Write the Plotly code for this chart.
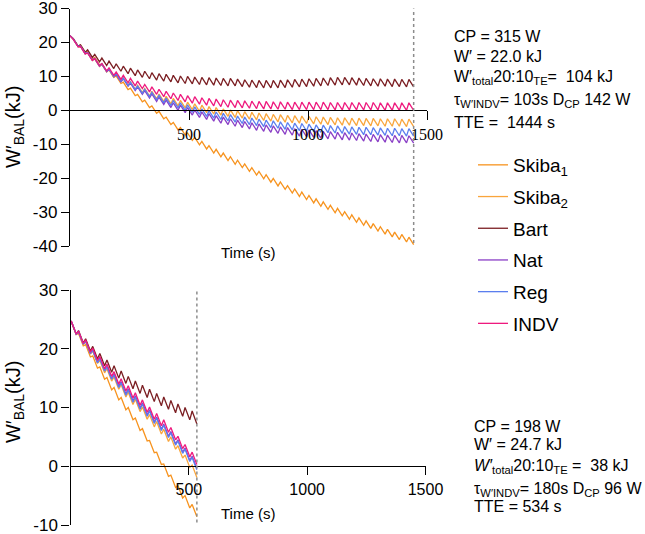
import plotly.graph_objects as go

# ---------------- data ----------------
# interval protocol: 20 s work / 10 s recovery
WORK_S = 20
CYCLE_S = 30

# ---- Top panel (CP 315 W, W' 22.0 kJ, TTE 1444 s) ----
top_start = 22.0
top_first_peak_t = 14
skiba1_top_peak = [21.1, 19.3, 17.4, 15.6, 13.7, 11.9, 10.1, 8.3, 6.5, 4.7, 3.0, 1.3, -0.3, -2.0, -3.6, -5.1,
                   -6.7, -8.0, -9.2, -10.4, -11.5, -12.6, -13.7, -14.7, -15.8, -16.9, -18.0, -19.0, -20.1, -21.1,
                   -22.2, -23.2, -24.1, -25.1, -26.1, -27.0, -28.0, -28.9, -29.9, -30.8, -31.7, -32.6, -33.4,
                   -34.3, -35.1, -35.9, -36.6, -37.4]
skiba1_top_trough = [18.9, 17.1, 15.2, 13.4, 11.5, 9.7, 7.9, 6.1, 4.3, 2.5, 0.8, -0.9, -2.5, -4.2, -5.8, -7.3,
                     -8.9, -10.2, -11.4, -12.6, -13.7, -14.8, -15.9, -16.9, -18.0, -19.1, -20.2, -21.2, -22.3,
                     -23.3, -24.4, -25.4, -26.3, -27.3, -28.3, -29.2, -30.2, -31.1, -32.1, -33.0, -33.9, -34.8,
                     -35.6, -36.5, -37.3, -38.1, -38.8, -39.6]
skiba2_top_peak = [20.9, 18.8, 16.9, 15.1, 13.5, 12.0, 10.7, 9.5, 8.4, 7.4, 6.4, 5.6, 4.8, 4.1, 3.5, 2.9, 2.4,
                   1.9, 1.5, 1.1, 0.8, 0.4, 0.1, -0.1, -0.4, -0.6, -0.8, -1.0, -1.2, -1.3, -1.5, -1.6, -1.7,
                   -1.8, -1.9, -2.0, -2.1, -2.2, -2.2, -2.3, -2.3, -2.4, -2.4, -2.5, -2.5, -2.5, -2.6, -2.6]
skiba2_top_trough = [18.7, 16.6, 14.7, 12.9, 11.3, 9.8, 8.5, 7.3, 6.2, 5.2, 4.2, 3.4, 2.6, 1.9, 1.3, 0.7, 0.2,
                     -0.3, -0.7, -1.1, -1.4, -1.8, -2.1, -2.3, -2.6, -2.8, -3.0, -3.2, -3.4, -3.5, -3.7, -3.8,
                     -3.9, -4.0, -4.1, -4.2, -4.3, -4.4, -4.4, -4.5, -4.5, -4.6, -4.6, -4.7, -4.7, -4.7, -4.8, -4.8]
bart_top_peak = [21.1, 19.3, 17.8, 16.5, 15.4, 14.5, 13.7, 13.0, 12.4, 11.9, 11.5, 11.1, 10.8, 10.6, 10.3, 10.1,
                 10.0, 9.8, 9.7, 9.6, 9.5, 9.4, 9.4, 9.2, 9.0, 8.9, 8.8, 8.8, 8.8, 8.9, 9.0, 9.1, 9.2, 9.3, 9.4,
                 9.5, 9.6, 9.7, 9.7, 9.6, 9.5, 9.4, 9.3, 9.3, 9.2, 9.2, 9.1, 9.1]
bart_top_trough = [18.9, 17.1, 15.6, 14.3, 13.2, 12.3, 11.5, 10.8, 10.2, 9.7, 9.3, 8.9, 8.6, 8.4, 8.1, 7.9, 7.8,
                   7.6, 7.5, 7.4, 7.3, 7.2, 7.2, 7.0, 6.8, 6.7, 6.6, 6.6, 6.6, 6.7, 6.8, 6.9, 7.0, 7.1, 7.2, 7.3,
                   7.4, 7.5, 7.5, 7.4, 7.3, 7.2, 7.1, 7.1, 7.0, 7.0, 6.9, 6.9]
nat_top_peak = [21.0, 18.9, 17.0, 15.2, 13.6, 12.1, 10.6, 9.3, 8.0, 6.9, 5.8, 4.8, 3.9, 3.0, 2.2, 1.5, 0.8, 0.1,
                -0.5, -1.0, -1.6, -2.0, -2.5, -2.9, -3.3, -3.7, -4.0, -4.3, -4.6, -4.9, -5.1, -5.4, -5.6, -5.8,
                -6.0, -6.2, -6.3, -6.5, -6.6, -6.7, -6.9, -7.0, -7.1, -7.2, -7.3, -7.4, -7.4, -7.5]
nat_top_trough = [18.8, 16.7, 14.8, 13.0, 11.4, 9.9, 8.4, 7.1, 5.8, 4.7, 3.6, 2.6, 1.7, 0.8, 0.0, -0.7, -1.4,
                  -2.1, -2.7, -3.2, -3.8, -4.2, -4.7, -5.1, -5.5, -5.9, -6.2, -6.5, -6.8, -7.1, -7.3, -7.6, -7.8,
                  -8.0, -8.2, -8.4, -8.5, -8.7, -8.8, -8.9, -9.1, -9.2, -9.3, -9.4, -9.5, -9.6, -9.6, -9.7]
reg_top_peak = [21.0, 18.9, 17.0, 15.3, 13.7, 12.2, 10.8, 9.5, 8.3, 7.2, 6.2, 5.3, 4.4, 3.6, 2.9, 2.2, 1.6, 1.0,
                0.4, -0.1, -0.5, -0.9, -1.3, -1.7, -2.0, -2.3, -2.6, -2.9, -3.1, -3.4, -3.6, -3.8, -3.9, -4.1,
                -4.3, -4.4, -4.5, -4.6, -4.8, -4.9, -5.0, -5.0, -5.1, -5.2, -5.3, -5.3, -5.4, -5.4]
reg_top_trough = [18.8, 16.7, 14.8, 13.1, 11.5, 10.0, 8.6, 7.3, 6.1, 5.0, 4.0, 3.1, 2.2, 1.4, 0.7, 0.0, -0.6,
                  -1.2, -1.8, -2.3, -2.7, -3.1, -3.5, -3.9, -4.2, -4.5, -4.8, -5.1, -5.3, -5.6, -5.8, -6.0, -6.1,
                  -6.3, -6.5, -6.6, -6.7, -6.8, -7.0, -7.1, -7.2, -7.2, -7.3, -7.4, -7.5, -7.5, -7.6, -7.6]
indv_top_peak = [20.9, 18.8, 16.9, 15.3, 13.8, 12.5, 11.3, 10.3, 9.4, 8.6, 7.6, 6.9, 6.2, 5.6, 5.1, 4.7, 4.3,
                 4.0, 3.7, 3.5, 3.3, 3.1, 3.0, 2.9, 2.8, 2.7, 2.6, 2.6, 2.5, 2.5, 2.4, 2.4, 2.4, 2.4, 2.4, 2.4,
                 2.3, 2.3, 2.3, 2.3, 2.3, 2.3, 2.3, 2.2, 2.2, 2.2, 2.2, 2.2]
indv_top_trough = [18.7, 16.6, 14.7, 13.1, 11.6, 10.3, 9.1, 8.1, 7.2, 6.4, 5.4, 4.7, 4.0, 3.4, 2.9, 2.5, 2.1,
                   1.8, 1.5, 1.3, 1.1, 0.9, 0.8, 0.7, 0.6, 0.5, 0.4, 0.4, 0.3, 0.3, 0.2, 0.2, 0.2, 0.2, 0.2, 0.2,
                   0.1, 0.1, 0.1, 0.1, 0.1, 0.1, 0.1, 0.0, 0.0, 0.0, 0.0, 0.0]
top_tte = 1444

# ---- Bottom panel (CP 198 W, W' 24.7 kJ, TTE 534 s) ----
bot_start = 24.7
bot_first_peak_t = 4
skiba1_bot_peak = [24.5, 22.6, 20.7, 18.8, 16.9, 15.1, 13.4, 11.7, 10.0, 8.2, 6.4, 4.4, 2.4, 0.4, -1.5, -3.3, -5.0, -6.5]
skiba1_bot_trough = [22.4, 20.5, 18.6, 16.7, 14.8, 13.0, 11.3, 9.6, 7.9, 6.1, 4.3, 2.3, 0.3, -1.7, -3.6, -5.4, -7.1, -8.6]
skiba2_bot_peak = [24.6, 22.9, 21.2, 19.6, 18.0, 16.6, 15.2, 13.9, 12.6, 11.4, 10.1, 8.8, 7.6, 6.3, 5.0, 3.5, 1.9, 0.2]
skiba2_bot_trough = [22.5, 20.8, 19.1, 17.5, 15.9, 14.5, 13.1, 11.8, 10.5, 9.3, 8.0, 6.7, 5.5, 4.2, 2.9, 1.4, -0.2, -1.9]
bart_bot_peak = [24.6, 23.1, 21.7, 20.4, 19.2, 18.1, 17.1, 16.2, 15.3, 14.5, 13.8, 13.1, 12.4, 11.8, 11.2, 10.6, 10.0, 9.4]
bart_bot_trough = [22.5, 21.0, 19.6, 18.3, 17.1, 16.0, 15.0, 14.1, 13.2, 12.4, 11.7, 11.0, 10.3, 9.7, 9.1, 8.5, 7.9, 7.2]
nat_bot_peak = [24.6, 22.9, 21.3, 19.8, 18.4, 17.0, 15.7, 14.4, 13.2, 12.0, 10.8, 9.6, 8.4, 7.2, 5.9, 4.5, 3.1, 1.7]
nat_bot_trough = [22.5, 20.8, 19.2, 17.7, 16.3, 14.9, 13.6, 12.3, 11.1, 9.9, 8.7, 7.5, 6.3, 5.1, 3.8, 2.4, 1.0, -0.4]
reg_bot_peak = [24.6, 22.9, 21.3, 19.7, 18.3, 16.9, 15.5, 14.2, 13.0, 11.8, 10.6, 9.4, 8.2, 7.0, 5.7, 4.3, 2.9, 1.5]
reg_bot_trough = [22.5, 20.8, 19.2, 17.6, 16.2, 14.8, 13.4, 12.1, 10.9, 9.7, 8.5, 7.3, 6.1, 4.9, 3.6, 2.2, 0.8, -0.6]
indv_bot_peak = [24.6, 23.0, 21.5, 20.1, 18.7, 17.4, 16.1, 14.9, 13.7, 12.5, 11.3, 10.1, 9.0, 7.9, 6.6, 5.1, 3.7, 2.4]
indv_bot_trough = [22.5, 20.9, 19.4, 18.0, 16.6, 15.3, 14.0, 12.8, 11.6, 10.4, 9.2, 8.0, 6.9, 5.8, 4.5, 3.0, 1.6, 0.3]
bot_tte = 534

series_names = ["Skiba<sub>1</sub>", "Skiba<sub>2</sub>", "Bart", "Nat", "Reg", "INDV"]
series_colors = ["#F7931E", "#F9A53C", "#7B1E22", "#8A3FC6", "#5B7EEE", "#EE1A7E"]

x_tick_vals = [500, 1000, 1500]
top_y_ticks = [-40, -30, -20, -10, 0, 10, 20, 30]
bot_y_ticks = [-10, 0, 10, 20, 30]

top_text = ["CP = 315 W", "W\u2032 = 22.0 kJ", "W\u2032<sub>total</sub>20:10<sub>TE</sub>=  104 kJ",
            "\u03c4<sub>W\u2032INDV</sub>= 103s D<sub>CP</sub> 142 W", "TTE =  1444 s"]
bot_text = ["CP = 198 W", "W\u2032 = 24.7 kJ", "<i>W\u2032</i><sub>total</sub>20:10<sub>TE</sub> =  38 kJ",
            "\u03c4<sub>W\u2032INDV</sub>= 180s D<sub>CP</sub> 96 W", "TTE = 534 s"]


# ---------------- helpers ----------------
def build_t(first_peak_t, n):
    t = [0]
    for k in range(n):
        t.append(first_peak_t + CYCLE_S * k)
        t.append(first_peak_t + CYCLE_S * k + WORK_S)
    return t


def build_y(start, peaks, troughs):
    y = [start]
    for p, q in zip(peaks, troughs):
        y.extend([p, q])
    return y


W, H = 645, 534


def px_x(p):
    return p / W


def px_y(p):
    return 1 - p / H


FONT = "Liberation Sans, Arial, Helvetica, sans-serif"
SERIF = "Liberation Serif, Times New Roman, serif"

top_sets = [(skiba1_top_peak, skiba1_top_trough), (skiba2_top_peak, skiba2_top_trough),
            (bart_top_peak, bart_top_trough), (nat_top_peak, nat_top_trough),
            (reg_top_peak, reg_top_trough), (indv_top_peak, indv_top_trough)]
bot_sets = [(skiba1_bot_peak, skiba1_bot_trough), (skiba2_bot_peak, skiba2_bot_trough),
            (bart_bot_peak, bart_bot_trough), (nat_bot_peak, nat_bot_trough),
            (reg_bot_peak, reg_bot_trough), (indv_bot_peak, indv_bot_trough)]

fig = go.Figure()

t_top = build_t(top_first_peak_t, len(skiba1_top_peak))
t_bot = build_t(bot_first_peak_t, len(skiba1_bot_peak))

for i, (name, col) in enumerate(zip(series_names, series_colors)):
    p, q = top_sets[i]
    fig.add_trace(go.Scatter(x=t_top, y=build_y(top_start, p, q), mode="lines", name=name,
                             line=dict(color=col, width=1.3), legendgroup=f"g{i}", showlegend=True,
                             xaxis="x", yaxis="y", hoverinfo="skip"))
for i, (name, col) in enumerate(zip(series_names, series_colors)):
    p, q = bot_sets[i]
    fig.add_trace(go.Scatter(x=t_bot, y=build_y(bot_start, p, q), mode="lines", name=name,
                             line=dict(color=col, width=1.3), legendgroup=f"g{i}", showlegend=False,
                             xaxis="x2", yaxis="y2", hoverinfo="skip"))

axis_common = dict(showline=True, linecolor="black", linewidth=1.3, ticks="outside", tickcolor="black",
                   tickwidth=1.3, showgrid=False, zeroline=False, fixedrange=True, automargin=False,
                   ticklabeloverflow="allow")

Y_TICK_SIZE = 17
X_TICK_SIZE = 16
top_dom_y = [px_y(246), px_y(8.5)]
bot_dom_y = [px_y(525), px_y(290)]

fig.update_layout(
    width=W, height=H, margin=dict(l=0, r=0, t=0, b=0, pad=0, autoexpand=False),
    paper_bgcolor="white", plot_bgcolor="white",
    font=dict(family=FONT, color="black", size=16),
    xaxis=dict(domain=[px_x(70), px_x(427)], range=[0, 1500], anchor="free",
               position=px_y(110.3), tickvals=x_tick_vals, ticklen=9,
               tickfont=dict(family=SERIF, size=X_TICK_SIZE, color="black"), **axis_common),
    yaxis=dict(domain=top_dom_y, range=[-40, 30], anchor="x", tickvals=top_y_ticks,
               ticktext=[str(v) for v in top_y_ticks], ticklen=8,
               tickfont=dict(family=FONT, size=Y_TICK_SIZE, color="black"), **axis_common),
    xaxis2=dict(domain=[px_x(70.5), px_x(425.5)], range=[0, 1500], anchor="free",
                position=px_y(466.3), tickvals=x_tick_vals, ticklen=8,
                tickfont=dict(family=FONT, size=X_TICK_SIZE, color="black"), **axis_common),
    yaxis2=dict(domain=bot_dom_y, range=[-10, 30], anchor="x2", tickvals=bot_y_ticks,
                ticktext=[str(v) for v in bot_y_ticks], ticklen=8,
                tickfont=dict(family=FONT, size=Y_TICK_SIZE, color="black"), **axis_common),
    legend=dict(x=px_x(473), y=px_y(146), xanchor="left", yanchor="top",
                font=dict(family=FONT, size=19, color="black"), tracegroupgap=4,
                bgcolor="rgba(0,0,0,0)", borderwidth=0),
    showlegend=True,
)

# TTE markers (dotted verticals)
fig.add_shape(type="line", xref="x", yref="y", x0=top_tte, x1=top_tte, y0=-40.9, y1=31.0,
              line=dict(color="#8c8c8c", width=1.5, dash="dot"))
fig.add_shape(type="line", xref="x2", yref="y2", x0=bot_tte, x1=bot_tte, y0=-11.6, y1=30,
              line=dict(color="#8c8c8c", width=1.5, dash="dot"))

ann = []
# axis titles
for yc in (127, 402):
    ann.append(dict(text="W\u2032<sub>BAL</sub>(kJ)", x=px_x(14), y=px_y(yc), xref="paper", yref="paper",
                    textangle=-90, showarrow=False, xanchor="center", yanchor="middle",
                    font=dict(family=FONT, size=20, color="black")))
for yc in (253, 513):
    ann.append(dict(text="Time (s)", x=px_x(248), y=px_y(yc), xref="paper", yref="paper", showarrow=False,
                    xanchor="center", yanchor="middle", font=dict(family=FONT, size=15, color="black")))

top_centers = [36.1, 56.1, 77.9, 100.9, 122.2]
bot_centers = [426.1, 444.4, 466.2, 489.6, 506.5]
for txt, yc in zip(top_text, top_centers):
    ann.append(dict(text=txt, x=px_x(452), y=px_y(yc), xref="paper", yref="paper", showarrow=False,
                    xanchor="left", yanchor="middle", font=dict(family=FONT, size=16, color="black")))
for txt, yc in zip(bot_text, bot_centers):
    ann.append(dict(text=txt, x=px_x(472), y=px_y(yc), xref="paper", yref="paper", showarrow=False,
                    xanchor="left", yanchor="middle", font=dict(family=FONT, size=16, color="black")))

fig.update_layout(annotations=ann)

fig.write_html("out.html")
